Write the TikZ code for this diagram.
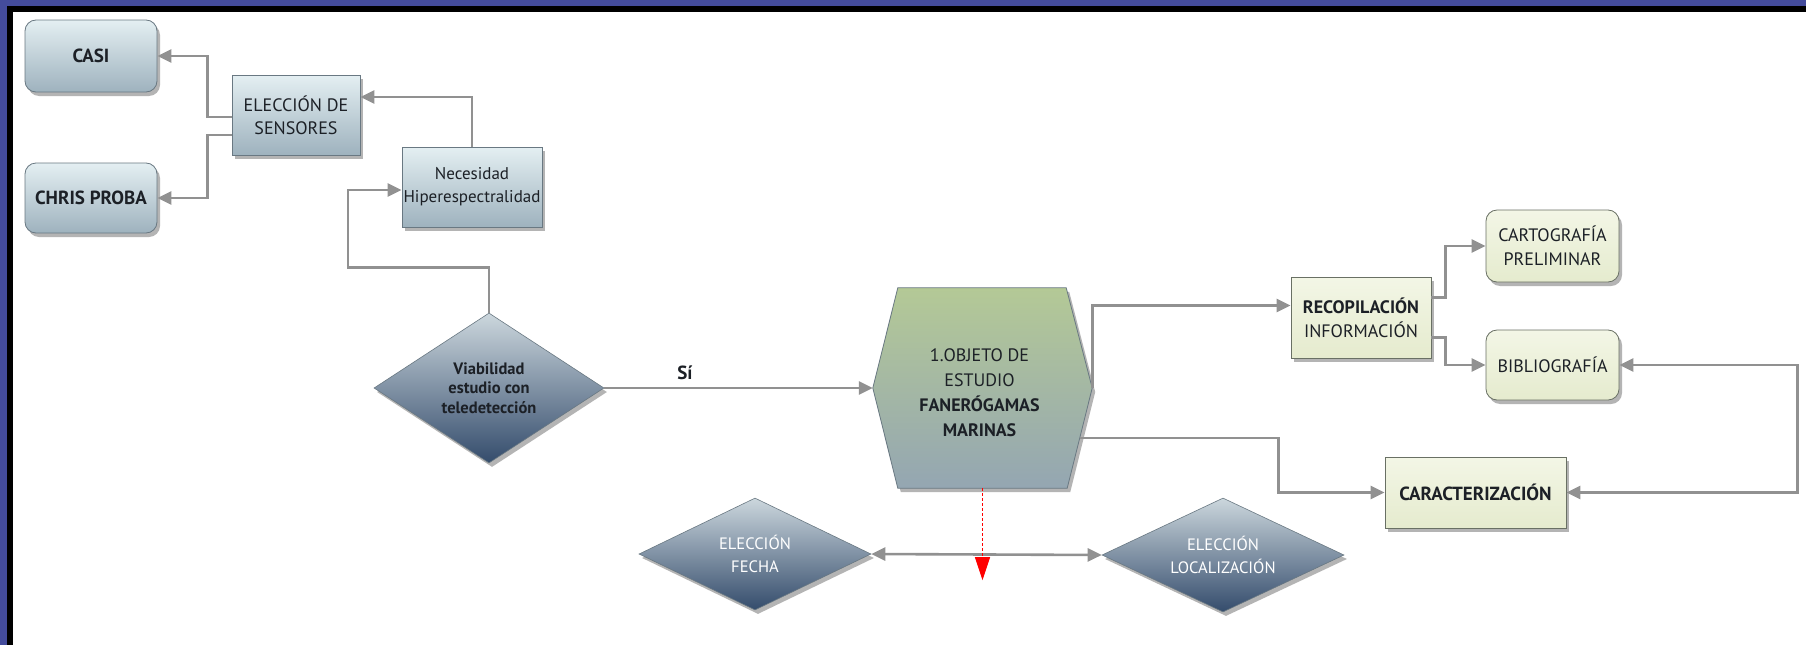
\documentclass[tikz,border=0pt]{standalone}
\usepackage{fontspec}
\setmainfont{PT Sans}
\usetikzlibrary{shapes.geometric,shadows,arrows.meta,calc}

\definecolor{frameblue}{RGB}{68,76,156}
\definecolor{linegray}{RGB}{145,145,145}
\definecolor{bluetop}{RGB}{228,239,242}
\definecolor{bluebot}{RGB}{158,178,190}
\definecolor{boxedge}{RGB}{105,120,130}
\definecolor{diatop}{RGB}{204,215,221}
\definecolor{diabot}{RGB}{52,76,108}
\definecolor{hextop}{RGB}{180,201,150}
\definecolor{hexmid}{RGB}{168,188,150}
\definecolor{hexbot}{RGB}{148,166,178}
\definecolor{greentop}{RGB}{243,246,230}
\definecolor{greenbot}{RGB}{229,235,206}
\definecolor{greenedge}{RGB}{105,112,100}
\definecolor{textdark}{RGB}{28,32,38}

\tikzset{
  softshadow/.style={drop shadow={shadow xshift=3pt, shadow yshift=-4pt, opacity=0.45, fill=black!65}},
  bluebox/.style={draw=boxedge, line width=0.8pt, top color=bluetop, bottom color=bluebot,
    softshadow, align=center, inner sep=0pt, text=textdark, font=\fontsize{18}{23}\selectfont},
  greenbox/.style={draw=greenedge, line width=0.8pt, top color=greentop, bottom color=greenbot,
    softshadow, align=center, inner sep=0pt, text=textdark, font=\fontsize{18}{24}\selectfont},
  decision/.style={diamond, draw=boxedge, line width=0.6pt, top color=diatop, bottom color=diabot,
    softshadow, align=center, inner sep=0pt},
  hexfill/.style={draw=boxedge, line width=0.8pt, top color=hextop, middle color=hexmid,
    bottom color=hexbot, softshadow},
  conn/.style={draw=linegray, line width=2.6pt, -{Triangle[length=14pt,width=13pt]}},
  twoway/.style={draw=linegray, line width=2.6pt, {Triangle[length=14pt,width=13pt]}-{Triangle[length=14pt,width=13pt]}},
  redlink/.style={draw=red, line width=0.9pt, dashed, dash pattern=on 3pt off 2pt,
    -{Triangle[length=23pt,width=15pt,fill=red]}},
}

\begin{document}
\begin{tikzpicture}[x=1pt,y=-1pt]
\useasboundingbox (0,0) rectangle (1806,645);

% page with its framed top and left edges
\fill[white] (0,0) rectangle (1806,645);
\fill[frameblue] (0,0) rectangle (1806,6);
\fill[frameblue] (0,0) rectangle (7,645);
\fill[black] (7,6) rectangle (1806,12);
\fill[black] (7,6) rectangle (13,645);

% sensor branch
\node[bluebox, rounded corners=11pt, minimum width=132pt, minimum height=72pt,
      font=\bfseries\fontsize{19}{23}\selectfont] (casi) at (91,56) {CASI};
\node[bluebox, rounded corners=11pt, minimum width=132pt, minimum height=70pt,
      font=\bfseries\fontsize{19}{23}\selectfont] (chris) at (91,198) {CHRIS PROBA};
\node[bluebox, minimum width=128pt, minimum height=80pt] (els) at (296,115)
      {ELECCIÓN DE\\SENSORES};
\node[bluebox, minimum width=140pt, minimum height=80pt, font=\fontsize{17}{23}\selectfont]
      (nec) at (472,187) {Necesidad\\Hiperespectralidad};

% feasibility decision
\node[decision, aspect=1.5, minimum width=230pt, minimum height=150pt,
      font=\bfseries\fontsize{16.5}{19.5}\selectfont, text=textdark] (viab) at (489,388)
      {Viabilidad\\estudio con\\teledetección};

% study object (hexagon)
\node[minimum width=219pt, minimum height=200pt, inner sep=0pt] (hex) at (982.5,388) {};
\path[hexfill] (hex.west) -- ($(hex.north west)+(25,0)$) -- ($(hex.north east)+(-26,0)$)
  -- (hex.east) -- ($(hex.south east)+(-25,0)$) -- ($(hex.south west)+(25,0)$) -- cycle;
\node[align=center, text=textdark, font=\fontsize{18}{25}\selectfont] (hexlabel) at ($(hex.center)+(-3,5)$)
  {1.OBJETO DE\\ESTUDIO\\\textbf{FANERÓGAMAS}\\\textbf{MARINAS}};

% right-hand branch
\node[greenbox, minimum width=140pt, minimum height=81pt] (recop) at (1361,317.5)
      {\textbf{RECOPILACIÓN}\\INFORMACIÓN};
\node[greenbox, rounded corners=11pt, minimum width=133pt, minimum height=72pt] (cart) at (1552.5,246)
      {CARTOGRAFÍA\\PRELIMINAR};
\node[greenbox, rounded corners=11pt, minimum width=133pt, minimum height=70pt] (biblio) at (1552.5,365)
      {BIBLIOGRAFÍA};
\node[greenbox, minimum width=181pt, minimum height=71pt, font=\bfseries\fontsize{19}{24}\selectfont]
      (caract) at (1475.5,492.5) {CARACTERIZACIÓN};

% date and location choices
\node[decision, aspect=2.1, minimum width=232pt, minimum height=112pt, text=white,
      font=\fontsize{16.5}{23}\selectfont] (fecha) at (755,554) {ELECCIÓN\\FECHA};
\node[decision, aspect=2.1, minimum width=242pt, minimum height=114pt, text=white,
      font=\fontsize{16.5}{23}\selectfont] (loc) at (1223,555) {ELECCIÓN\\LOCALIZACIÓN};

% connectors
\draw[conn] ($(els.west)+(0,2)$) -- ++(-24,0) |- (casi.east);
\draw[conn] ($(els.west)+(0,20)$) -- ++(-24,0) |- (chris.east);
\draw[conn] (nec.north) |- ($(els.east)+(0,-18)$);
\draw[conn] (viab.north) -- ++(0,-45) -- ++(-141,0) |- ($(nec.west)+(0,3)$);
\draw[conn] (viab.east) -- node[above=4pt, pos=0.3, text=textdark,
      font=\bfseries\fontsize{19}{23}\selectfont] (si) {Sí} (hex.west);
\draw[conn] (hex.east) |- ($(recop.west)+(0,-12)$);
\draw[conn] ($(hex.east)+(-12,50)$) -| ($(caract.west)+(-106,0)$) -- (caract.west);
\draw[conn] ($(recop.east)+(0,-20)$) -- ++(14,0) |- (cart.west);
\draw[conn] ($(recop.east)+(0,20)$) -- ++(14,0) |- (biblio.west);
\draw[twoway] (caract.east) -- ++(231,0) |- (biblio.east);
\draw[twoway] (fecha.east) -- (loc.west);
\draw[redlink] (hex.south) -- ++(0,92);
\end{tikzpicture}
\end{document}
